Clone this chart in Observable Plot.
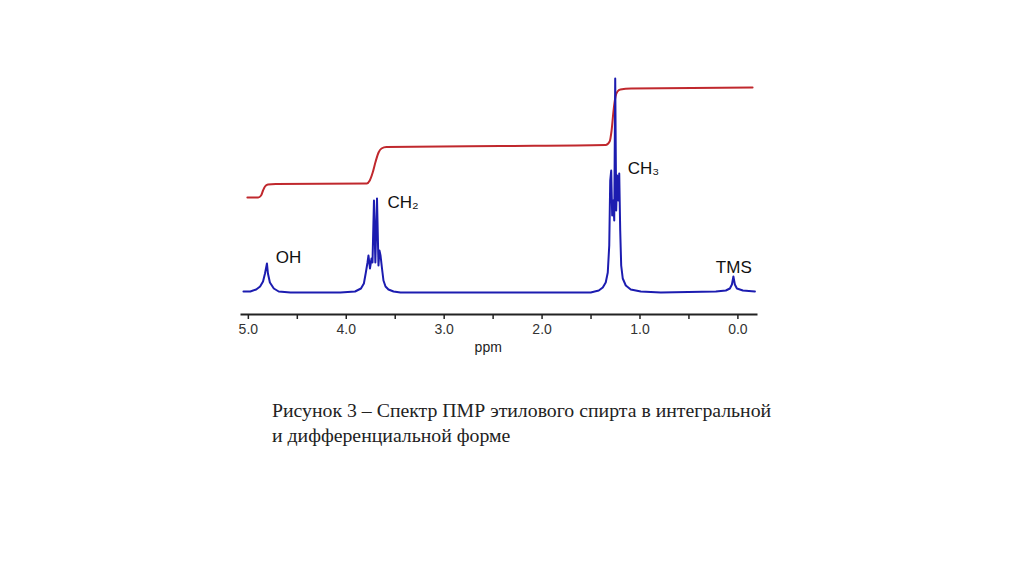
<!DOCTYPE html>
<html>
<head>
<meta charset="utf-8">
<script src="https://cdn.jsdelivr.net/npm/d3@7"></script>
<script src="https://cdn.jsdelivr.net/npm/@observablehq/plot@0.6"></script>
<style>
  html, body { margin: 0; padding: 0; background: #fff; }
  #wrap { position: relative; width: 1024px; height: 574px; overflow: hidden; }
  #caption { position: absolute; left: 272px; top: 398px; font-family: "Liberation Serif", "Times New Roman", serif; font-size: 19.8px; line-height: 25px; color: #222; white-space: nowrap; }
</style>
</head>
<body>
<div id="wrap"><div id="chart"></div><div id="caption">Рисунок 3 – Спектр ПМР этилового спирта в интегральной<br>и дифференциальной форме</div></div>
<script>
// Differential spectrum (blue): chemical shift (ppm) and intensity
const specPpm = [5.05, 4.98, 4.92, 4.88, 4.85, 4.83, 4.81, 4.80, 4.78, 4.74, 4.69, 4.57, 4.06,
  3.91, 3.85, 3.82, 3.80, 3.783, 3.773, 3.758, 3.742, 3.732, 3.717, 3.703, 3.686, 3.671, 3.661, 3.650,
  3.635, 3.620, 3.599, 3.569, 3.517, 3.446, 1.503,
  1.421, 1.380, 1.350, 1.329, 1.314, 1.304, 1.294, 1.284, 1.273, 1.263, 1.253, 1.243, 1.233, 1.222,
  1.212, 1.202, 1.192, 1.176, 1.145, 1.094, 0.992, 0.787,
  0.225, 0.123, 0.082, 0.061, 0.046, 0.031, 0.010, -0.051, -0.174];
const specInt = [1, 1, 3, 6, 11, 19, 29, 19, 10, 4, 1, 0, 0,
  1, 4, 9, 20, 30, 37, 24, 34, 30, 92, 30, 94, 27, 42, 37,
  24, 12, 6, 3, 1, 0, 0,
  2, 5, 10, 20, 47, 112, 122, 77, 92, 72, 214, 82, 117, 92,
  119, 62, 27, 14, 7, 3, 1, 0,
  1, 2, 4, 8, 16, 8, 4, 2, 1];

// Integral curve (red)
const intPpm = [5.01, 4.90, 4.87, 4.85, 4.83, 4.80, 4.72, 3.79, 3.76, 3.73, 3.70, 3.67, 3.64, 3.59,
  2.42, 1.35, 1.31, 1.29, 1.27, 1.25, 1.23, 1.20, 1.09, -0.15];
const intVal = [95, 95, 97, 102, 106, 108, 108.5, 109, 112, 120, 131, 140, 144, 145.5,
  146.5, 147.5, 151, 162, 182, 196, 201, 203, 204, 205];

// Peak labels
const labelText = ["OH", "CH₂", "CH₃", "TMS"];
const labelPpm = [4.72, 3.58, 1.125, 0.225];
const labelVal = [35, 90, 124, 25];

// Axis ticks
const majorTicks = [5, 4, 3, 2, 1, 0];
const minorTicks = [4.5, 3.5, 2.5, 1.5, 0.5];

const spectrum = specPpm.map((x, i) => ({x, y: specInt[i]}));
const integral = intPpm.map((x, i) => ({x, y: intVal[i]}));
const labels = labelText.map((t, i) => ({t, x: labelPpm[i], y: labelVal[i]}));

const plot = Plot.plot({
  width: 1024,
  height: 370,
  marginLeft: 241,
  marginRight: 268,
  marginTop: 78,
  marginBottom: 56,
  style: {fontFamily: "'Liberation Sans', Arial, sans-serif", background: "#fff"},
  x: {domain: [5.07, -0.19]},
  y: {domain: [-22, 214], axis: null},
  marks: [
    Plot.frame({anchor: "bottom", stroke: "#222", strokeWidth: 2}),
    Plot.axisX(majorTicks, {tickSize: 5, tickPadding: 5, tickFormat: d3.format(".1f"), fontSize: 14, fill: "#333", stroke: "#222", strokeWidth: 1.5, label: null}),
    Plot.axisX(minorTicks, {tickSize: 5, tickFormat: () => "", stroke: "#222", strokeWidth: 1.5, label: null}),
    Plot.text(["ppm"], {x: 2.55, frameAnchor: "bottom", dy: 37, fontSize: 14, fill: "#222"}),
    Plot.line(integral, {x: "x", y: "y", stroke: "#c0282d", strokeWidth: 2, curve: "monotone-x"}),
    Plot.line(spectrum, {x: "x", y: "y", stroke: "#1c1cb0", strokeWidth: 2, curve: "linear"}),
    Plot.text(labels, {x: "x", y: "y", text: "t", textAnchor: "start", fontSize: 17, fill: "#111"})
  ]
});
document.getElementById("chart").appendChild(plot);
</script>
</body>
</html>
